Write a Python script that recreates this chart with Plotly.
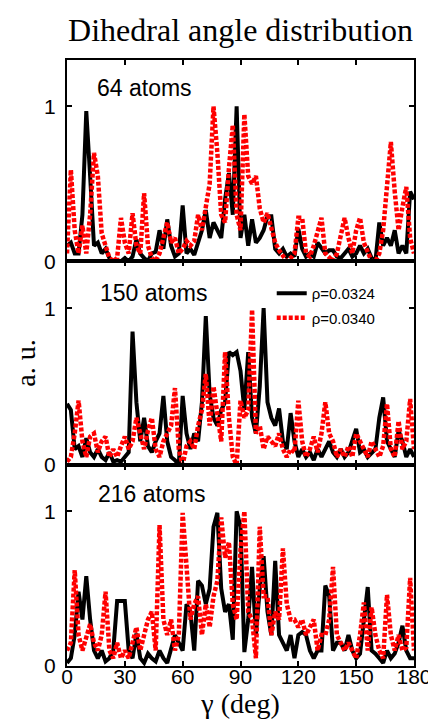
import plotly.graph_objects as go
from plotly.subplots import make_subplots

# Angle grid (deg)
angles = list(range(0, 181, 2))

# 64 atoms
p64_a = [0.1, 0.12, 0.05, 0.05, 0.3, 0.97, 0.55, 0.1, 0.12, 0.05,
         0.08, 0.02, 0, 0, 0, 0.02, 0, 0.03, 0.14, 0.05,
         0.02, 0, 0.05, 0.06, 0.2, 0.08, 0.27, 0.1, 0.03, 0.05,
         0.36, 0.05, 0.08, 0.04, 0.12, 0.2, 0.33, 0.15, 0.25, 0.2,
         0.15, 0.4, 0.57, 0.3, 1.0, 0.15, 0.3, 0.1, 0.27, 0.12,
         0.15, 0.2, 0.29, 0.29, 0.08, 0.05, 0.08, 0.03, 0.05, 0.03,
         0.21, 0.08, 0.03, 0.05, 0.03, 0.12, 0.08, 0.05, 0.07, 0.07,
         0.03, 0.02, 0.05, 0.08, 0.03, 0.05, 0.1, 0.05, 0.08, 0.02,
         0, 0.25, 0.1, 0.15, 0.1, 0.2, 0.05, 0.1, 0.05, 0.45, 0.4]
p64_b = [0.05, 0.59, 0.2, 0.05, 0.23, 0.05, 0.3, 0.7, 0.55, 0.18,
         0.1, 0.02, 0, 0.02, 0.28, 0.12, 0.05, 0.31, 0.1, 0.05,
         0.44, 0.1, 0.02, 0, 0.05, 0.15, 0.25, 0.12, 0.15, 0.05,
         0.08, 0.13, 0.1, 0.13, 0.3, 0.2, 0.35, 0.5, 1.0, 0.7,
         0.3, 0.25, 0.6, 0.88, 0.3, 0.2, 0.95, 0.55, 0.5, 0.55,
         0.34, 0.25, 0.31, 0.2, 0.12, 0.07, 0.03, 0, 0.02, 0.05,
         0.28, 0.28, 0.05, 0.03, 0.1, 0.2, 0.28, 0.05, 0.02, 0,
         0.05, 0.15, 0.28, 0.15, 0.05, 0.2, 0.28, 0.12, 0.05, 0,
         0, 0.05, 0.2, 0.48, 0.77, 0.45, 0.2, 0.35, 0.48, 0.15, 0.05]

# 150 atoms
p150_a = [0.39, 0.35, 0.1, 0.12, 0.05, 0.17, 0.08, 0.05, 0.1, 0.05,
          0.03, 0.08, 0.02, 0.03, 0.02, 0.05, 0.08, 0.85, 0.4, 0.15,
          0.3, 0.12, 0.08, 0.15, 0.2, 0.44, 0.15, 0.05, 0.03, 0,
          0.44, 0.2, 0.1, 0.2, 0.15, 0.4, 0.95, 0.45, 0.3, 0.25,
          0.35, 0.4, 0.72, 0.7, 0.72, 0.6, 0.35, 0.72, 0.3, 0.2,
          0.5, 1.0, 0.4, 0.3, 0.25, 0.36, 0.15, 0.1, 0.33, 0.15,
          0.05, 0.1, 0.05, 0.08, 0.03, 0.1, 0.05, 0.1, 0.15, 0.08,
          0.05, 0.1, 0.05, 0.08, 0.15, 0.23, 0.08, 0.1, 0.05, 0.08,
          0.1, 0.3, 0.43, 0.15, 0.1, 0.05, 0.22, 0.15, 0.05, 0.1, 0.05]
p150_b = [0.02, 0.05, 0.2, 0.41, 0.15, 0.05, 0.18, 0.2, 0.08, 0.15,
          0.18, 0.05, 0.1, 0.05, 0.12, 0.18, 0.1, 0.15, 0.3, 0.2,
          0.1, 0.22, 0.3, 0.1, 0.05, 0.15, 0.2, 0.25, 0.49, 0.1,
          0, 0.12, 0.15, 0.1, 0.25, 0.35, 0.58, 0.25, 0.5, 0.3,
          0.15, 0.72, 0.3, 0.05, 0.0, 0.41, 0.3, 0.35, 0.99, 0.2,
          0.25, 0.1, 0.18, 0.15, 0.12, 0.2, 0.1, 0.05, 0.1, 0.08,
          0.41, 0.15, 0.05, 0.1, 0.18, 0.08, 0.2, 0.4, 0.2, 0.15,
          0.05, 0.1, 0.05, 0.12, 0.05, 0.2, 0.15, 0.1, 0.05, 0.15,
          0.1, 0.05, 0.12, 0.39, 0.1, 0.05, 0.28, 0.1, 0.15, 0.42, 0.1]

# 216 atoms
p216_a = [0.02, 0.05, 0.2, 0.48, 0.3, 0.58, 0.3, 0.1, 0.05, 0.1,
          0.03, 0.05, 0.1, 0.42, 0.42, 0.42, 0.1, 0.05, 0.21, 0.05,
          0.02, 0.08, 0.05, 0.03, 0.1, 0.05, 0.02, 0.1, 0.2, 0.15,
          0.1, 0.4, 0.35, 0.1, 0.55, 0.52, 0.4, 0.5, 0.9, 0.99,
          0.5, 0.35, 0.4, 0.17, 1.0, 0.9, 0.09, 0.3, 0.64, 0.2,
          0.5, 0.71, 0.35, 0.2, 0.68, 0.2, 0.15, 0.1, 0.2, 0.05,
          0.2, 0.22, 0.2, 0.1, 0.05, 0.1, 0.1, 0.52, 0.45, 0.1,
          0.15, 0.15, 0.1, 0.2, 0.1, 0.05, 0.08, 0.3, 0.51, 0.1,
          0.08, 0.05, 0.02, 0.1, 0.05, 0.08, 0.15, 0.26, 0.1, 0.05, 0.05]
p216_b = [0.1, 0.15, 0.62, 0.2, 0.1, 0.2, 0.27, 0.15, 0.1, 0.2,
          0.48, 0.1, 0.05, 0.15, 0.05, 0.1, 0.05, 0.15, 0.25, 0.1,
          0.2, 0.3, 0.35, 0.1, 0.91, 0.3, 0.2, 0.3, 0.1, 0.2,
          0.99, 0.6, 0.3, 0.4, 0.45, 0.2, 0.4, 0.25, 0.45, 0.55,
          0.96, 0.7, 0.8, 0.4, 0.3, 0.75, 1.0, 0.35, 0.3, 0.05,
          0.9, 0.45, 0.45, 0.2, 0.35, 0.3, 0.76, 0.4, 0.3, 0.3,
          0.25, 0.3, 0.2, 0.25, 0.3, 0.1, 0.2, 0.2, 0.3, 0.64,
          0.2, 0.15, 0.1, 0.15, 0.1, 0.05, 0.2, 0.41, 0.1, 0.38,
          0.2, 0.1, 0.05, 0.46, 0.2, 0.1, 0.2, 0.1, 0.12, 0.57, 0.1]

panel_labels = ["64 atoms", "150 atoms", "216 atoms"]
series_names = ["\u03c1=0.0324", "\u03c1=0.0340"]
x_ticks = [0, 30, 60, 90, 120, 150, 180]
y_ticks = [0, 1]

panels = [(p64_a, p64_b), (p150_a, p150_b), (p216_a, p216_b)]

SANS = "Liberation Sans, Arial, sans-serif"
SERIF = "Liberation Serif, Times New Roman, serif"

fig = make_subplots(rows=3, cols=1, shared_xaxes=True, vertical_spacing=0)

for i, (ya, yb) in enumerate(panels):
    show = (i == 1)
    fig.add_trace(go.Scatter(x=angles, y=ya, mode="lines", name=series_names[0],
                             line=dict(color="#000000", width=4),
                             showlegend=show, legendgroup="a"), row=i + 1, col=1)
    fig.add_trace(go.Scatter(x=angles, y=yb, mode="lines", name=series_names[1],
                             line=dict(color="#ff0000", width=4.5, dash="4px,2px"),
                             showlegend=show, legendgroup="b"), row=i + 1, col=1)

domains = [[0.668, 1.0], [0.332, 0.668], [0.0, 0.332]]
for i in range(3):
    fig.update_yaxes(domain=domains[i], range=[0, 1.3], tickvals=y_ticks,
                     ticktext=[str(v) for v in y_ticks],
                     ticks="inside", ticklen=5, tickwidth=2, tickcolor="black",
                     showline=True, linecolor="black", linewidth=2, mirror="ticks",
                     showgrid=False, zeroline=False, ticklabelstandoff=5,
                     tickfont=dict(family=SANS, size=21, color="black"),
                     row=i + 1, col=1)
    fig.update_xaxes(range=[0, 180], tickvals=x_ticks,
                     ticks="inside", ticklen=5, tickwidth=2, tickcolor="black",
                     showline=True, linecolor="black", linewidth=2, mirror="ticks",
                     showgrid=False, zeroline=False,
                     tickfont=dict(family=SANS, size=21, color="black"),
                     row=i + 1, col=1)

fig.update_xaxes(ticklabelstandoff=-9,
                 title=dict(text="\u03b3 (deg)", font=dict(family=SERIF, size=28, color="black"),
                            standoff=0), row=3, col=1)
fig.update_yaxes(title=dict(text="a. u.", font=dict(family=SERIF, size=28, color="black"),
                            standoff=0), row=2, col=1)

label_pos = [(0.08, 0.86), (0.09, 0.842), (0.085, 0.855)]
for i, lab in enumerate(panel_labels):
    xr = "x domain" if i == 0 else f"x{i+1} domain"
    yr = "y domain" if i == 0 else f"y{i+1} domain"
    fig.add_annotation(text=lab, xref=xr, yref=yr, x=label_pos[i][0], y=label_pos[i][1],
                       xanchor="left", yanchor="middle", showarrow=False,
                       font=dict(family=SANS, size=23, color="black"))

fig.update_layout(
    width=436, height=721,
    margin=dict(l=59, r=21, t=52, b=63),
    paper_bgcolor="white", plot_bgcolor="white",
    title=dict(text="Dihedral angle distribution", x=0.5, xref="paper",
               y=1 - 22 / 721, yanchor="middle",
               font=dict(family=SERIF, size=32, color="black")),
    legend=dict(x=0.59, y=0.642, xanchor="left", yanchor="top",
                bgcolor="rgba(0,0,0,0)", itemwidth=30,
                font=dict(family=SANS, size=15, color="black"),
                tracegroupgap=2, traceorder="grouped"),
    showlegend=True,
)

fig.write_html("out.html")
